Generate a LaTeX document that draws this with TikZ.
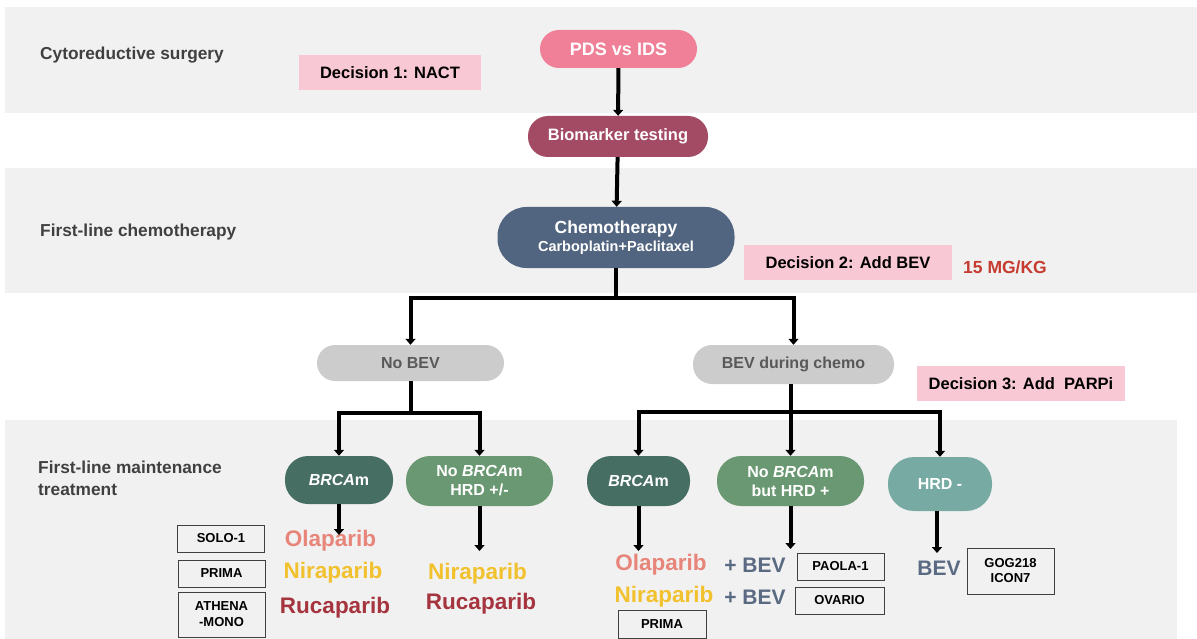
\documentclass[tikz,border=0pt]{standalone}
\usepackage{fontspec}
\setmainfont{Liberation Sans}
\usetikzlibrary{arrows.meta}
\definecolor{bandc}{HTML}{F1F1F1}
\definecolor{pdsc}{HTML}{F07F98}
\definecolor{decc}{HTML}{F8C9D4}
\definecolor{bioc}{HTML}{A34A65}
\definecolor{chemoc}{HTML}{526580}
\definecolor{greyc}{HTML}{CCCCCC}
\definecolor{greytxt}{HTML}{595959}
\definecolor{brcac}{HTML}{476E63}
\definecolor{nobrcac}{HTML}{6A9872}
\definecolor{hrdc}{HTML}{76AAA2}
\definecolor{labc}{HTML}{404040}
\definecolor{olac}{HTML}{E8857A}
\definecolor{nirac}{HTML}{F2C12E}
\definecolor{rucac}{HTML}{A5343F}
\definecolor{bevc}{HTML}{5A6A82}
\definecolor{mgc}{HTML}{C63B30}
\newcommand\fsz[2]{\fontsize{#1}{#2}\selectfont}
\begin{document}
\begin{tikzpicture}[x=1pt,y=-1pt,
  pill/.style={align=center, text=white, inner sep=0pt},
  decbox/.style={fill=decc, inner sep=0pt, text=black, font=\fsz{16.5}{19}\bfseries},
  lab/.style={anchor=west, inner sep=0pt, text=labc, font=\fsz{17.3}{22}\bfseries, align=left},
  drug/.style={inner sep=0pt, font=\fsz{22.5}{26}\bfseries},
  trial/.style={draw=black!75, line width=0.8pt, inner sep=0pt, align=center, font=\fsz{13}{16}\bfseries},
  conn/.style={line width=4pt},
  arr/.style={line width=4pt, -{Triangle[width=10pt,length=6pt]}}]
\useasboundingbox (0,0) rectangle (1197,639);
% bands
\fill[bandc] (5,7) rectangle (1197,113);
\fill[bandc] (5,168) rectangle (1197,293);
\fill[bandc] (5,420) rectangle (1177,639);
% left labels
\node[lab] (l1) at (40,55) {Cytoreductive surgery};
\node[lab] (l2) at (40,232) {First-line chemotherapy};
\node[lab] (l3) at (38,478) {First-line maintenance\\treatment};
% top nodes
\node[pill, fill=pdsc, minimum width=157pt, minimum height=38pt, rounded corners=19pt, font=\fsz{18}{21}\bfseries] (pds) at (618.5,49) {PDS vs IDS};
\node[decbox, minimum width=182pt, minimum height=35pt] (dec1) at (390,72.5) {Decision 1: NACT};
\node[pill, fill=bioc, minimum width=180pt, minimum height=41pt, rounded corners=20pt, font=\fsz{16.5}{19}\bfseries] (bio) at (618,136.5) {Biomarker testing};
\node[pill, fill=chemoc, minimum width=237pt, minimum height=61pt, rounded corners=29pt, font=\fsz{17.5}{19}\bfseries] (chemo) at (616,237.5) {Chemotherapy\\[-1pt]{\fsz{14.5}{17}\bfseries Carboplatin+Paclitaxel}};
\node[decbox, minimum width=208pt, minimum height=35pt] (dec2) at (848,262.5) {Decision 2: Add BEV};
\node[inner sep=0pt, text=mgc, font=\fsz{17.5}{20}\bfseries] (mg) at (1005,267) {15 MG/KG};
% second level
\node[pill, fill=greyc, text=greytxt, minimum width=187pt, minimum height=36pt, rounded corners=18pt, font=\fsz{16}{19}\bfseries] (nobev) at (410.5,363) {No BEV};
\node[pill, fill=greyc, text=greytxt, minimum width=201pt, minimum height=39pt, rounded corners=19pt, font=\fsz{16}{19}\bfseries] (bev) at (793.5,364.5) {BEV during chemo};
\node[decbox, minimum width=208pt, minimum height=35pt] (dec3) at (1021,383.5) {Decision 3: Add~~PARPi};
% third level
\node[pill, fill=brcac, minimum width=108pt, minimum height=48pt, rounded corners=23pt, font=\fsz{16}{19}\bfseries] (brca1) at (339,480) {\textit{BRCA}m};
\node[pill, fill=nobrcac, minimum width=147pt, minimum height=50pt, rounded corners=24pt, font=\fsz{16}{19}\bfseries] (nobrca1) at (479.5,481) {No \textit{BRCA}m\\HRD +/-};
\node[pill, fill=brcac, minimum width=103pt, minimum height=50pt, rounded corners=24pt, font=\fsz{16}{19}\bfseries] (brca2) at (638.5,481) {\textit{BRCA}m};
\node[pill, fill=nobrcac, minimum width=147pt, minimum height=50pt, rounded corners=24pt, font=\fsz{16}{19}\bfseries] (nobrca2) at (790.5,481) {No \textit{BRCA}m\\but HRD +};
\node[pill, fill=hrdc, minimum width=104pt, minimum height=54pt, rounded corners=26pt, font=\fsz{16}{19}\bfseries] (hrdneg) at (940,484) {HRD -};
% drugs
\node[drug, text=olac] (ola1) at (330.5,541) {Olaparib};
\node[drug, text=nirac] (nira1) at (333,573) {Niraparib};
\node[drug, text=rucac] (ruca1) at (335,608) {Rucaparib};
\node[drug, text=nirac] (nira2) at (477.5,574) {Niraparib};
\node[drug, text=rucac] (ruca2) at (481,604) {Rucaparib};
\node[drug, text=olac] (ola2) at (661,565) {Olaparib};
\node[drug, text=bevc, font=\fsz{21}{24}\bfseries] (bev1) at (755,565) {+ BEV};
\node[drug, text=nirac] (nira3) at (664,597) {Niraparib};
\node[drug, text=bevc, font=\fsz{21}{24}\bfseries] (bev2) at (755,597) {+ BEV};
\node[drug, text=bevc, font=\fsz{21}{24}\bfseries] (bev3) at (939,568) {BEV};
% trials
\node[trial, minimum width=87pt, minimum height=27pt] (solo) at (221,538.5) {SOLO-1};
\node[trial, minimum width=87pt, minimum height=27pt] (prima1) at (221.5,573.5) {PRIMA};
\node[trial, minimum width=87pt, minimum height=45pt] (athena) at (221.5,614.5) {ATHENA\\-MONO};
\node[trial, minimum width=87pt, minimum height=27pt] (paola) at (840.5,566.5) {PAOLA-1};
\node[trial, minimum width=89pt, minimum height=27pt] (ovario) at (839.5,600.5) {OVARIO};
\node[trial, minimum width=88pt, minimum height=28pt] (prima2) at (662,624) {PRIMA};
\node[trial, minimum width=87pt, minimum height=46pt, font=\fsz{13}{15}\bfseries] (gog) at (1010.5,571) {GOG218\\ICON7};
% connectors
\draw[arr] (pds) -- (bio);
\draw[arr] (bio) -- (chemo);
\coordinate (s1) at (616,298);
\draw[conn] (chemo.south) -- (s1);
\draw[arr] (s1) -| (nobev.north);
\draw[arr] (s1) -| (bev.north);
\coordinate (s2) at (410.5,413);
\draw[conn] (nobev.south) -- (s2);
\draw[arr] (s2) -| (brca1.north);
\draw[arr] (s2) -| (nobrca1.north);
\coordinate (s3) at (790.5,412);
\draw[conn] (nobrca2.north |- bev.south) -- (s3);
\draw[arr] (s3) -| (brca2.north);
\draw[arr] (s3) -- (nobrca2.north);
\draw[arr] (s3) -| (hrdneg.north);
\coordinate (e1) at (339,535);
\coordinate (e2) at (479.5,551);
\coordinate (e3) at (638.5,551);
\coordinate (e4) at (790.5,549);
\coordinate (e5) at (937,553);
\draw[arr] (brca1.south) -- (e1);
\draw[arr] (nobrca1.south) -- (e2);
\draw[arr] (brca2.south) -- (e3);
\draw[arr] (nobrca2.south) -- (e4);
\draw[arr] (hrdneg.south -| e5) -- (e5);
\end{tikzpicture}
\end{document}
